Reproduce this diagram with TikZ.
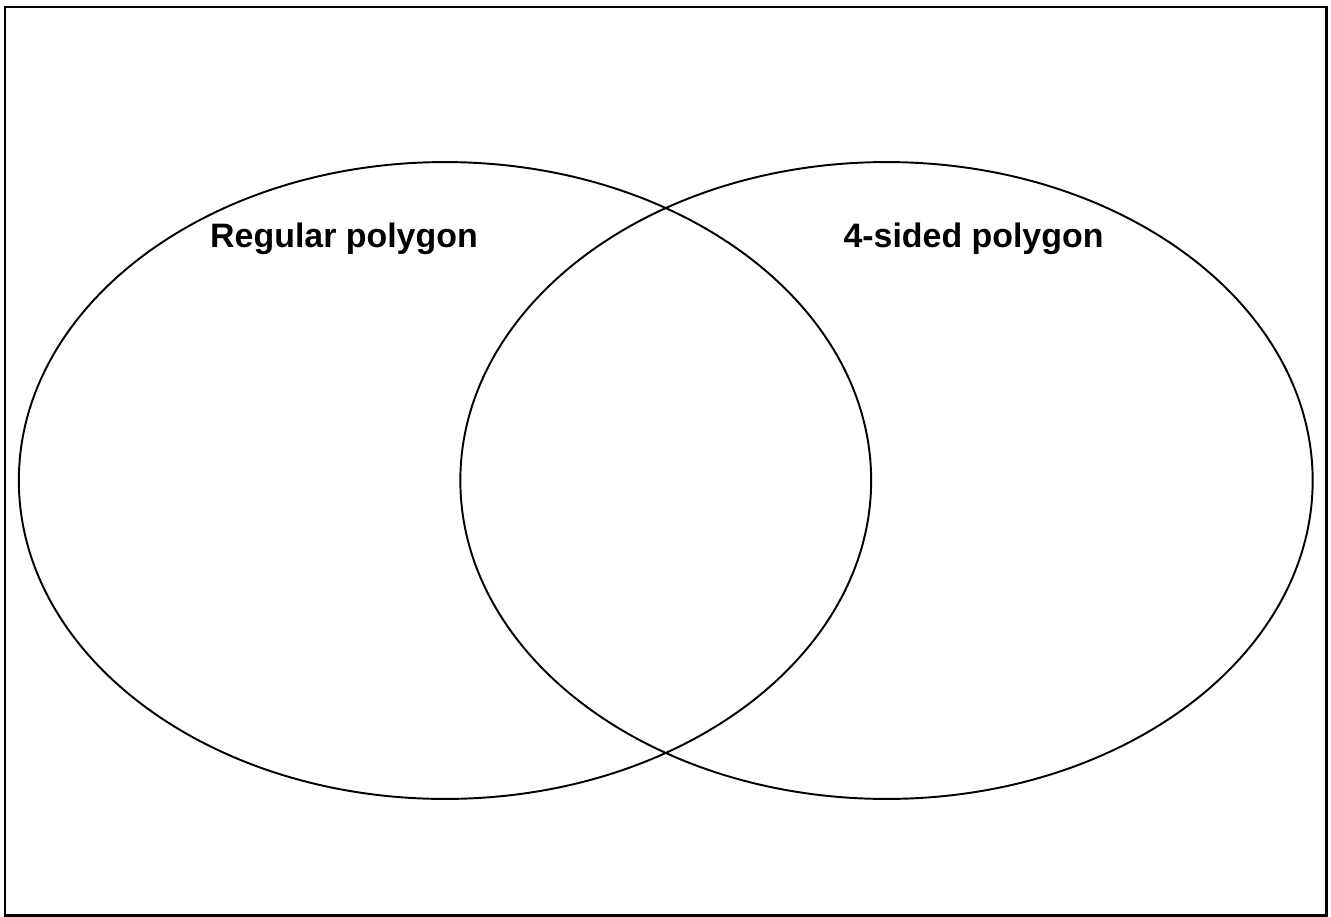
\documentclass[tikz,border=0pt]{standalone}
\usepackage{fontspec}
\setmainfont{Liberation Sans}
\usetikzlibrary{shapes.geometric}

\begin{document}
\begin{tikzpicture}[
    x=0.02cm, y=-0.02cm,
    set/.style={
        draw,
        ellipse,
        line width=1.1pt,
        inner sep=0pt,
        minimum width=17.05cm,
        minimum height=12.74cm
    },
    setlabel/.style={
        anchor=base,
        inner sep=0pt,
        font=\fontsize{19.3}{23}\selectfont\bfseries
    }
]
    \useasboundingbox (0,0) rectangle (1331,916);
    \draw[line width=1.7pt] (5,7) rectangle (1326,915);

    \node[set] (regular) at (445,480.5) {};
    \node[set] (foursided) at (886.5,480.5) {};

    \node[setlabel] (reglabel) at (344,247) {Regular polygon};
    \node[setlabel] (fourlabel) at (973.5,247) {4-sided polygon};

\end{tikzpicture}
\end{document}
